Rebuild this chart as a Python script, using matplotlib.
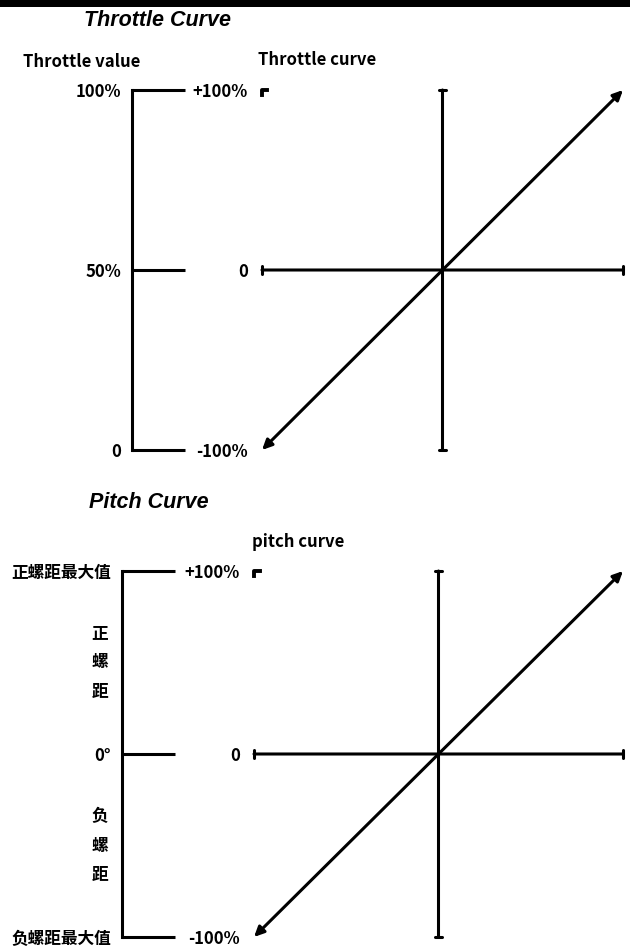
import matplotlib.pyplot as plt
from matplotlib.patches import Rectangle

W, H = 630, 948

titles = ["Throttle Curve", "Pitch Curve"]
value_headers = ["Throttle value", ""]
curve_headers = ["Throttle curve", "pitch curve"]

throttle_levels = [100, 50, 0]
throttle_labels = ["100%", "50%", "0"]
pitch_levels = [100, 0, -100]
pitch_labels = ["正螺距最大值", "0°", "负螺距最大值"]
pitch_side = ["正\n螺\n距", "负\n螺\n距"]
pitch_side_at = [50, -50]

curve_levels = [100, 0, -100]
curve_labels = ["+100%", "0", "-100%"]
stick = [-100, 100]
throttle_curve = [-100, 100]
pitch_curve = [-100, 100]

LBL = dict(family=["Noto Sans CJK SC", "DejaVu Sans"], fontweight="bold", fontsize=12)
TTL = dict(family="Liberation Sans", fontweight="bold", fontstyle="italic", fontsize=15.5)
LW = 2.2


def box(x0, y0, x1, y1):
    # pixel box (top-left origin) -> figure fraction rect
    return [x0 / W, 1 - y1 / H, (x1 - x0) / W, (y1 - y0) / H]


def scale_axes(rect, levels, labels):
    ax = fig.add_axes(rect)
    lo, hi = min(levels), max(levels)
    ax.set_xlim(0, 1)
    ax.set_ylim(lo, hi)
    for s in ["top", "right", "bottom", "left"]:
        ax.spines[s].set_visible(False)
    ax.set_xticks([])
    ax.set_yticks(levels, labels, **LBL)
    ax.tick_params(axis="y", length=0, pad=8)
    ax.plot([0, 0], [lo, hi], color="black", lw=LW, solid_capstyle="projecting", clip_on=False)
    ax.hlines(levels, 0, 1, color="black", lw=LW, clip_on=False)
    ax.patch.set_visible(False)
    return ax


def curve_axes(rect, ys):
    ax = fig.add_axes(rect)
    ax.set_xlim(-100, 100)
    ax.set_ylim(-100, 100)
    for s in ["top", "right", "bottom", "left"]:
        ax.spines[s].set_visible(False)
    ax.set_xticks([])
    ax.set_yticks(curve_levels, curve_labels, **LBL)
    ax.tick_params(axis="y", length=0, pad=10)
    ax.patch.set_visible(False)
    cap = dict(arrowstyle="|-|,widthA=0.28,widthB=0.28", lw=LW, color="black",
               shrinkA=0, shrinkB=0, mutation_scale=10)
    ax.annotate("", xy=(100, 0), xytext=(-100, 0), arrowprops=cap, annotation_clip=False)
    ax.annotate("", xy=(0, 100), xytext=(0, -100), arrowprops=cap, annotation_clip=False)
    arr = dict(arrowstyle="<|-|>,head_length=0.42,head_width=0.2", lw=LW, color="black",
               shrinkA=0, shrinkB=0, mutation_scale=14)
    ax.annotate("", xy=(stick[1], ys[1]), xytext=(stick[0], ys[0]), arrowprops=arr,
                annotation_clip=False)
    # small corner mark at top-left
    ax.plot([-100, -100, -97], [97, 100, 100], color="black", lw=2.8, clip_on=False)
    return ax


fig = plt.figure(figsize=(W / 100, H / 100), dpi=100)
fig.add_artist(Rectangle((0, 1 - 7 / H), 1, 7 / H, transform=fig.transFigure,
                         color="black", lw=0))

# throttle panel
fig.text(157 / W, 1 - 20 / H, titles[0], ha="center", va="center", **TTL)
fig.text(23 / W, 1 - 62 / H, value_headers[0], ha="left", va="center", **LBL)
fig.text(258 / W, 1 - 60 / H, curve_headers[0], ha="left", va="center", **LBL)
scale_axes(box(132, 90, 185, 450), throttle_levels, throttle_labels)
curve_axes(box(262, 90, 623, 450), throttle_curve)

# pitch panel
fig.text(149 / W, 1 - 503 / H, titles[1], ha="center", va="center", **TTL)
fig.text(252 / W, 1 - 542 / H, curve_headers[1], ha="left", va="center", **LBL)
sa = scale_axes(box(122, 571, 175, 937), pitch_levels, pitch_labels)
for txt, y in zip(pitch_side, pitch_side_at):
    sa.annotate(txt, (0, y), xytext=(-22, 0), textcoords="offset pixels",
                ha="center", va="center", linespacing=1.85, **LBL)
curve_axes(box(254, 571, 623, 937), pitch_curve)

fig.savefig("out.png", dpi=100)
